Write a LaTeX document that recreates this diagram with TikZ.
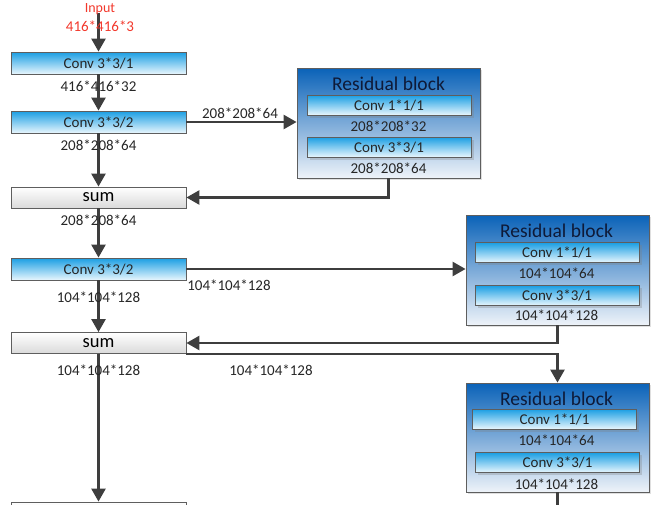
\documentclass[tikz,border=0pt]{standalone}
\usepackage{fontspec}
\setmainfont{Carlito}
\usepackage{tikz}
\usetikzlibrary{calc,positioning,arrows.meta,shadows}
\definecolor{convtop}{HTML}{1A9EE3}
\definecolor{convbot}{HTML}{E8F6FD}
\definecolor{rbtop}{HTML}{0A62B8}
\definecolor{rbbot}{HTML}{EEF3F9}
\definecolor{sumbot}{HTML}{DADADA}
\definecolor{boxline}{HTML}{5E5E5E}
\definecolor{arrcol}{HTML}{3E3E3E}
\definecolor{txt}{HTML}{262626}
\definecolor{ttlcol}{HTML}{0E1A38}
\definecolor{inred}{HTML}{F2382C}
\tikzstyle{conv}     = [rectangle, draw=boxline, line width=0.8pt, top color=convtop, bottom color=convbot, minimum width=175pt, minimum height=22pt, inner sep=0pt, text=txt, font=\fontsize{15}{17}\selectfont]
\tikzstyle{sumbox}   = [rectangle, draw=boxline, line width=0.8pt, top color=white, bottom color=sumbot, minimum width=175pt, minimum height=21pt, inner sep=0pt, text=black, font=\fontsize{18.5}{20}\selectfont]
\tikzstyle{resblock} = [rectangle, draw=boxline, line width=0.8pt, top color=rbtop, bottom color=rbbot, minimum width=183pt, minimum height=110pt, inner sep=0pt, drop shadow={shadow xshift=2pt, shadow yshift=-2pt, opacity=0.25}]
\tikzstyle{inconv}   = [conv, minimum width=164pt, minimum height=20pt, drop shadow={shadow xshift=2.5pt, shadow yshift=-2.5pt, opacity=0.3}]
\tikzstyle{lbl}      = [inner sep=0pt, text=txt, font=\fontsize{15}{17}\selectfont]
\tikzstyle{ttl}      = [inner sep=0pt, text=ttlcol, font=\fontsize{19.5}{22}\selectfont]
\tikzstyle{arrow}    = [line width=2.5pt, draw=arrcol, -{Triangle[length=13pt,width=14pt]}]
\tikzstyle{wire}     = [line width=2.5pt, draw=arrcol]

\begin{document}
\begin{tikzpicture}[x=1pt,y=-1pt]
    \useasboundingbox (0,0) rectangle (654,504);
    \clip (0,0) rectangle (654,504);

    % main column
    \coordinate (start) at (98.5,13);
    \node[conv] (conv1) at (98.5,63) {Conv 3*3/1};
    \node[conv] (conv2) at (98.5,122) {Conv 3*3/2};
    \node[sumbox] (sum1) at (98.5,197.5) {sum};
    \node[conv] (conv3) at (98.5,269) {Conv 3*3/2};
    \node[sumbox] (sum2) at (98.5,343) {sum};
    \node[sumbox, minimum height=22pt] (next) at (98.5,513) {};

    % residual blocks
    \node[resblock] (rb1) at (388.5,123) {};
    \node[ttl] (rb1t) at (388.5,84) {Residual block};
    \node[inconv] (rb1a) at (389,105) {Conv 1*1/1};
    \node[lbl] (rb1la) at (388.5,126) {208*208*32};
    \node[inconv] (rb1b) at (389,147) {Conv 3*3/1};
    \node[lbl] (rb1lb) at (388.5,168) {208*208*64};

    \node[resblock] (rb2) at (557.5,270) {};
    \node[ttl] (rb2t) at (556.5,231) {Residual block};
    \node[inconv] (rb2a) at (557,252.5) {Conv 1*1/1};
    \node[lbl] (rb2la) at (556.5,273) {104*104*64};
    \node[inconv] (rb2b) at (557,295.5) {Conv 3*3/1};
    \node[lbl] (rb2lb) at (556.5,315) {104*104*128};

    \node[resblock, minimum height=109pt] (rb3) at (557.5,437.5) {};
    \node[ttl] (rb3t) at (556.5,399) {Residual block};
    \node[inconv] (rb3a) at (554.5,419) {Conv 1*1/1};
    \node[lbl] (rb3la) at (556.5,440) {104*104*64};
    \node[inconv] (rb3b) at (557.5,462.5) {Conv 3*3/1};
    \node[lbl] (rb3lb) at (556.5,484) {104*104*128};
    \coordinate (rb3out) at (557.5,510);

    % connectors
    \draw[arrow] (start) -- (conv1.north);
    \draw[arrow] (conv1.south) -- (conv2.north);
    \draw[arrow] (conv2.east) -- (conv2.east -| rb1.west);
    \draw[arrow] (conv2.south) -- (sum1.north);
    \draw[arrow] (rb1.south) -- (rb1.south |- sum1.east) -- (sum1.east);
    \draw[arrow] (sum1.south) -- (conv3.north);
    \draw[arrow] (conv3.east) -- (conv3.east -| rb2.west);
    \draw[arrow] (conv3.south) -- (sum2.north);
    \draw[arrow] (rb2.south) -- (rb2.south |- sum2.east) -- (sum2.east);
    \draw[arrow] (sum2.south east) -- (sum2.south east -| rb3.north) -- (rb3.north);
    \draw[arrow] (sum2.south) -- (next.north);
    \draw[wire] (rb3.south) -- (rb3out);

    % sizes
    \node[inner sep=0pt, text=inred, font=\fontsize{14}{16}\selectfont] (inname) at (100,9) {Input};
    \node[inner sep=0pt, text=inred, font=\fontsize{15}{17}\selectfont] (insize) at (100,26) {416*416*3};
    \node[lbl] (s1) at (98.5,86) {416*416*32};
    \node[lbl] (s2) at (98.5,145) {208*208*64};
    \node[lbl] (s2r) at (240,113) {208*208*64};
    \node[lbl] (s3) at (98.5,220) {208*208*64};
    \node[lbl] (s4) at (98.5,297) {104*104*128};
    \node[lbl] (s4r) at (229,285) {104*104*128};
    \node[lbl] (s5) at (98.5,370) {104*104*128};
    \node[lbl] (s5r) at (271,370) {104*104*128};
\end{tikzpicture}
\end{document}
